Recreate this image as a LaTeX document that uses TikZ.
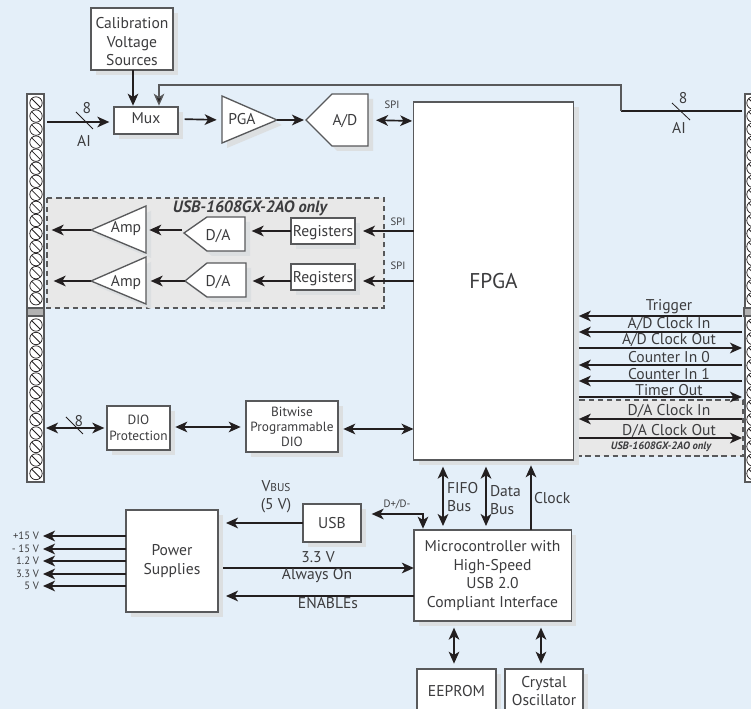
\documentclass[tikz,border=0pt]{standalone}
\usepackage{fontspec}
\setmainfont{PT Sans}
\usetikzlibrary{arrows.meta,shadows}

\definecolor{panelblue}{HTML}{E4EFF9}
\definecolor{boxshadow}{HTML}{DCDFE1}
\definecolor{optgray}{HTML}{E8E8E8}
\definecolor{edgegray}{HTML}{58595B}
\definecolor{inkblack}{HTML}{231F20}
\definecolor{labelgray}{HTML}{3C3C3E}

\tikzset{
  shadowed/.style={drop shadow={shadow xshift=3.75pt, shadow yshift=-3.75pt, fill=boxshadow, opacity=1}},
  block/.style={draw=edgegray, line width=1pt, fill=white, shadowed, inner sep=0pt, outer sep=0pt, align=center, text=labelgray, font=\fontsize{11.7}{13.8}\selectfont},
  wedge/.style={draw=edgegray, line width=1pt, fill=white, shadowed, line join=miter},
  caption/.style={inner sep=0pt, outer sep=0pt, align=center, text=labelgray, font=\fontsize{11.7}{13.8}\selectfont},
  smalltext/.style={caption, font=\fontsize{8}{9}\selectfont},
  wire/.style={draw=inkblack, line width=1.25pt},
  sigin/.style={wire, -{Stealth[length=9pt, width=8pt, inset=2.5pt]}},
  sigboth/.style={wire, {Stealth[length=9pt, width=8pt, inset=2.5pt]}-{Stealth[length=9pt, width=8pt, inset=2.5pt]}},
  slashmark/.style={draw=inkblack, line width=0.6pt},
  optbox/.style={draw=edgegray, line width=2.2pt, fill=optgray, dash pattern=on 4pt off 2.8pt},
}

\begin{document}
\begin{tikzpicture}[x=0.75pt, y=-0.75pt]
\clip (0,0) rectangle (751,709);
\fill[panelblue] (0,0) rectangle (751,709);

% screw terminals
\draw[edgegray, line width=0.8pt, fill=white] (27,94) rectangle (44,482);
\draw[edgegray, line width=0.8pt, fill=white] (745,94) rectangle (765,482);
\foreach \sx in {36,753} {
  \foreach \sy in {0,...,15} {
    \draw[inkblack, line width=0.55pt] (\sx,103+13.05*\sy) circle (6.2);
    \draw[inkblack, line width=0.55pt] (\sx-4.4,98.6+13.05*\sy) -- (\sx+4.4,107.4+13.05*\sy);
  }
  \foreach \sy in {0,...,11} {
    \draw[inkblack, line width=0.55pt] (\sx,325+13.5*\sy) circle (6.2);
    \draw[inkblack, line width=0.55pt] (\sx-4.4,320.6+13.5*\sy) -- (\sx+4.4,329.4+13.5*\sy);
  }
  \draw[edgegray, line width=0.8pt, fill=gray!60] (\sx-9,308) rectangle (\sx+8,316);
}

% option areas
\draw[optbox] (47,198) rectangle (384,308);
\draw[optbox] (578,400) rectangle (743,456);
\node[caption, font=\fontsize{12.3}{14}\selectfont\itshape\bfseries] (optA) at (250,208) {USB-1608GX-2AO only};
\node[smalltext, font=\fontsize{8}{9}\selectfont\itshape\bfseries] (optB) at (661,447) {USB-1608GX-2AO only};

% blocks
\node[block, minimum width=61.5pt, minimum height=46.5pt] (calib) at (132,39) {\rule{0pt}{12.3pt}Calibration\\Voltage\\Sources};
\node[block, minimum width=48pt, minimum height=20.25pt] (mux) at (146,120.5) {\rule[-3pt]{0pt}{3pt}Mux};
\node[block, minimum width=120pt, minimum height=268.5pt, font=\fontsize{16}{18}\selectfont] (fpga) at (493.5,281) {FPGA};
\node[block, minimum width=48pt, minimum height=19.5pt] (regA) at (323,231) {\rule{0pt}{11.3pt}Registers};
\node[block, minimum width=48pt, minimum height=19.5pt] (regB) at (323,277) {\rule{0pt}{11.3pt}Registers};
\node[block, minimum width=47.25pt, minimum height=33pt, font=\fontsize{10}{11.5}\selectfont] (dio) at (138.5,428) {DIO\\Protection};
\node[block, minimum width=69pt, minimum height=38.25pt, font=\fontsize{10}{11.3}\selectfont] (bitwise) at (292,426.5) {Bitwise\\Programmable\\DIO};
\node[block, minimum width=69pt, minimum height=76.5pt] (power) at (172,561) {Power\\Supplies};
\node[block, minimum width=43.5pt, minimum height=28.5pt] (usb) at (332,523) {USB};
\node[block, minimum width=118pt, minimum height=68.25pt] (micro) at (492.5,575.5) {Microcontroller with\\High-Speed\\USB 2.0\\Compliant Interface};
\node[block, minimum width=59.25pt, minimum height=33pt] (eeprom) at (456.5,691) {EEPROM};
\node[block, minimum width=58.5pt, minimum height=33pt] (crystal) at (544,691) {Crystal\\Oscillator};

% triangles and converters
\draw[wedge] (222,96) -- (277,120) -- (222,143) -- cycle;
\draw[wedge] (306,120) -- (332,94) -- (368,94) -- (368,146) -- (332,146) -- cycle;
\draw[wedge] (146,206) -- (146,253) -- (91,230) -- cycle;
\draw[wedge] (146,257) -- (146,304) -- (91,281) -- cycle;
\draw[wedge] (184,233) -- (207,217) -- (245,217) -- (245,251) -- (207,251) -- cycle;
\draw[wedge] (185,281) -- (207,263) -- (246,263) -- (246,297) -- (207,297) -- cycle;
\node[caption] (pga) at (242,119) {PGA};
\node[caption] (adc) at (345,121) {A/D};
\node[caption] (ampA) at (126,229) {Amp};
\node[caption] (ampB) at (126,283) {Amp};
\node[caption] (dacA) at (218,236) {D/A};
\node[caption] (dacB) at (218,282) {D/A};

% analog input path
\coordinate (aiL) at (47,122);
\coordinate (aiR) at (742,111);
\coordinate (aiC) at (621,111);
\draw[sigin, shorten >=3.5pt] (aiL) -- (mux.west |- aiL);
\draw[slashmark] (76,112) -- (93,129);
\node[caption] (aiEightL) at (87,108) {8};
\node[caption] (aiTextL) at (84,141) {AI};
\draw[sigin, shorten >=1pt] (calib.south -| 133,0) -- (mux.north -| 133,0);
\draw[wire] (aiR) -- (aiC);
\draw[draw=edgegray, line width=1pt, -{Stealth[length=9pt, width=8pt, inset=2.5pt, fill=inkblack]}, shorten >=1pt] (aiC) -- (621,85) -- (159,85) -- (mux.north -| 159,0);
\draw[slashmark] (672,103) -- (690,120);
\node[caption] (aiEightR) at (683,98) {8};
\node[caption] (aiTextR) at (679,128) {AI};
\draw[sigin, shorten <=5pt, shorten >=4pt] (mux.east |- pga) -- (222,120);
\draw[sigin, shorten >=1.5pt] (277,120) -- (306,120);
\draw[sigboth, shorten <=1pt, shorten >=6pt] (fpga.west |- adc) -- (368,120);
\node[smalltext] (spiA) at (392,105) {SPI};

% analog output path
\draw[sigin, shorten >=6pt] (fpga.west |- regA) -- (regA.east);
\draw[sigin, shorten >=6pt] (fpga.west |- 0,281) -- (regB.east |- 0,281);
\node[smalltext] (spiB) at (398,222) {SPI};
\node[smalltext] (spiC) at (398,266) {SPI};
\draw[sigin, shorten >=5pt] (regA.west) -- (245,231);
\draw[sigin, shorten >=5pt] (regB.west |- 0,281) -- (246,281);
\draw[sigin, shorten >=2.5pt] (182,230) -- (146,230);
\draw[sigin, shorten >=3.5pt] (185,281) -- (146,281);
\draw[sigin, shorten >=3.5pt] (91,230) -- (47,230);
\draw[sigin, shorten >=5pt] (91,281) -- (47,281);

% digital i/o
\coordinate (dioL) at (46,428);
\draw[sigboth, shorten >=2pt] (dioL) -- (dio.west);
\draw[slashmark] (66,417) -- (83,434);
\node[caption] (dioEight) at (79,421) {8};
\draw[sigboth, shorten <=4pt, shorten >=4pt] (dio.east |- 0,427) -- (bitwise.west |- 0,427);
\draw[sigboth, shorten <=4pt] (bitwise.east |- 0,429) -- (fpga.west |- 0,429);

% right hand signals
\foreach \sy/\sname/\ly in {316/Trigger/307, 332/{A/D Clock In}/324, 365/Counter In 0/357, 381/Counter In 1/374, 419/{D/A Clock In}/411} {
  \coordinate (strip) at (742,\sy);
  \draw[sigin, shorten >=4pt] (strip) -- (strip -| fpga.east);
  \node[caption] (sig\sy) at (669,\ly) {\sname};
}
\foreach \sy/\sname/\ly in {348/{A/D Clock Out}/340, 397/Timer Out/390, 438/{D/A Clock Out}/431} {
  \coordinate (strip) at (742,\sy);
  \draw[sigin, shorten <=4pt] (strip -| fpga.east) -- (strip);
  \node[caption] (sig\sy) at (669,\ly) {\sname};
}

% usb and power
\draw[sigin, shorten >=6pt] (usb.west) -- (power.east |- usb);
\node[caption] (vbus) at (276,497) {V{\fontsize{8.5}{10}\selectfont BUS}\\(5 V)};
\draw[sigboth, shorten <=1pt, shorten >=8pt] (micro.north -| 423,0) -- (423,514) -- (usb.east |- 0,514);
\node[smalltext] (dplus) at (397,504) {D+/D-};
\draw[sigin, shorten <=4pt] (power.east |- 0,568) -- (micro.west |- 0,568);
\node[caption] (railA) at (318,557) {3.3 V};
\node[caption] (railB) at (317,576) {Always On};
\draw[sigin, shorten >=6pt] (micro.west |- 0,596) -- (power.east |- 0,596);
\node[caption] (enable) at (328,603) {ENABLEs};
\foreach \sy/\sname in {536/{+15 V}, 549/{- 15 V}, 561/{1.2 V}, 574/{3.3 V}, 586/{5 V}} {
  \coordinate (rail) at (43,\sy);
  \draw[sigin] (rail -| power.west) -- (rail);
  \node[smalltext, anchor=east] (out\sy) at (39,\sy) {\sname};
}

% fpga to microcontroller
\draw[sigboth, shorten <=5pt, shorten >=3pt] (fpga.south -| 443,0) -- (micro.north -| 443,0);
\draw[sigboth, shorten <=5pt, shorten >=3pt] (fpga.south -| 486,0) -- (micro.north -| 486,0);
\draw[sigin, shorten >=4pt] (micro.north -| 531,0) -- (fpga.south -| 531,0);
\node[caption, align=left, anchor=west] (fifo) at (447,497) {FIFO\\Bus};
\node[caption, align=left, anchor=west] (data) at (490,500) {Data\\Bus};
\node[caption, anchor=west] (clock) at (534,498) {Clock};
\draw[sigboth, shorten <=5pt, shorten >=4pt] (micro.south -| 454,0) -- (eeprom.north -| 454,0);
\draw[sigboth, shorten <=5pt, shorten >=4pt] (micro.south -| 541,0) -- (crystal.north -| 541,0);
\end{tikzpicture}
\end{document}
